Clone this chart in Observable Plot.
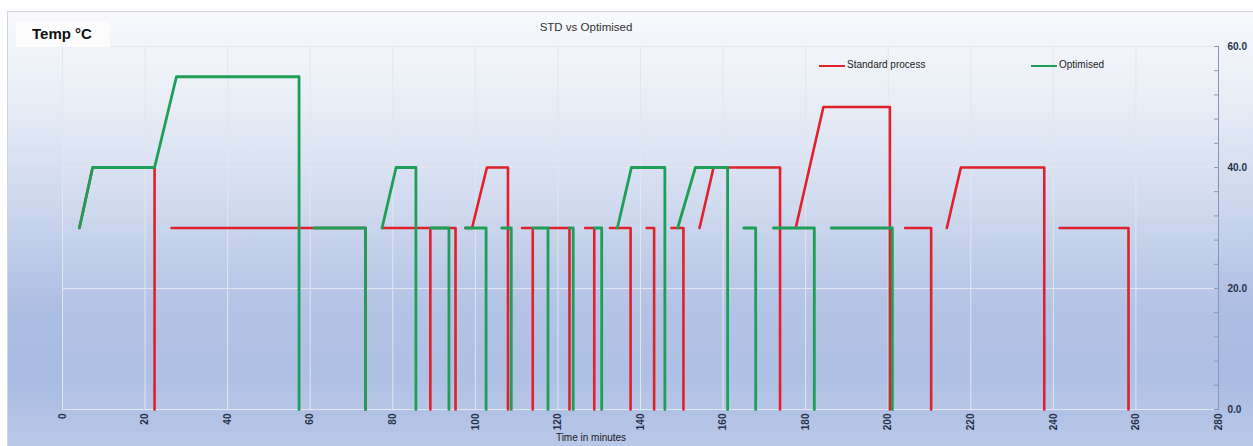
<!DOCTYPE html>
<html><head><meta charset="utf-8">
<script src="https://cdn.jsdelivr.net/npm/d3@7"></script>
<script src="https://cdn.jsdelivr.net/npm/@observablehq/plot@0.6"></script>
<style>
body{margin:0;background:#fff;font-family:"Liberation Sans",Arial,sans-serif;}
#wrap{position:relative;width:1253px;height:446px;overflow:hidden;background:#fff;}
#box{position:absolute;left:7px;top:11px;right:0;bottom:0;border-left:1px solid #d4d8de;border-top:1px solid #d4d8de;
 background:linear-gradient(to bottom,#f7f9fc 0%,#e8edf6 20%,#ccd7ee 45%,#adbee3 68%,#a8bbe2 84%,#b9c8e7 100%);}
#chart{position:absolute;left:0;top:0;}
.ov{position:absolute;white-space:nowrap;color:#333;}
#tempbox{position:absolute;left:16px;top:21px;width:94px;height:26px;background:#fcfcfd;}
#temp{left:32px;top:22px;font-weight:bold;font-size:15px;line-height:24px;color:#111;}
#title{left:586px;top:21px;transform:translateX(-50%);font-size:11.5px;color:#333;}
#xlabel{left:591px;top:432px;transform:translateX(-50%);font-size:10px;color:#222;}
.lg{position:absolute;height:2px;width:26px;top:65px;}
.lt{top:59px;font-size:10px;color:#222;}
.plot-ticks text{font-weight:bold;}
</style>
</head><body>
<div id="wrap">
 <div id="box"></div>
 <div id="chart"></div>
 <div id="tempbox"></div>
 <div class="ov" id="temp">Temp °C</div>
 <div class="ov" id="title">STD vs Optimised</div>
 <div class="lg" style="left:819px;background:#e0202a"></div>
 <div class="ov lt" style="left:847px">Standard process</div>
 <div class="lg" style="left:1031px;background:#1f9e58"></div>
 <div class="ov lt" style="left:1059px">Optimised</div>
 <div class="ov" id="xlabel">Time in minutes</div>
</div>
<script>
// Standard process: time (minutes) and temperature (°C); null = break between runs
const stdTime = [4.1,7.3,22.3,22.3,null,
 26.4,73.4,73.4,null,
 77.4,89.1,89.1,null,
 89.4,95.2,95.2,null,
 97.6,99.2,102.8,107.9,107.9,null,
 111.3,113.9,113.9,null,
 117.6,122.8,122.8,null,
 126.6,128.8,128.8,null,
 132.6,137.6,137.6,null,
 141.5,143.3,143.3,null,
 147.5,150.4,150.4,null,
 154.3,157.7,173.8,173.8,null,
 177.6,184.3,200.4,200.4,null,
 204.1,210.4,210.4,null,
 214.2,217.6,237.8,237.8,null,
 241.5,258.2,258.2];
const stdTemp = [30,40,40,0,null,
 30,30,0,null,
 30,30,0,null,
 30,30,0,null,
 30,30,40,40,0,null,
 30,30,0,null,
 30,30,0,null,
 30,30,0,null,
 30,30,0,null,
 30,30,0,null,
 30,30,0,null,
 30,40,40,0,null,
 30,50,50,0,null,
 30,30,0,null,
 30,40,40,0,null,
 30,30,0];
// Optimised process
const optTime = [4.1,7.3,22.3,27.6,57.3,57.3,null,
 60.9,73.4,73.4,null,
 77.4,80.8,85.6,85.6,null,
 89.1,93.6,93.6,null,
 97.6,102.6,102.6,null,
 106.4,108.7,108.7,null,
 113.9,117.6,117.6,null,
 122.8,123.7,123.7,null,
 128.8,130.6,130.6,null,
 134.4,137.8,145.9,145.9,null,
 149.0,153.3,161.1,161.1,null,
 165.0,167.9,167.9,null,
 172.2,182.1,182.1,null,
 186.2,201.0,201.0];
const optTemp = [30,40,40,55,55,0,null,
 30,30,0,null,
 30,40,40,0,null,
 30,30,0,null,
 30,30,0,null,
 30,30,0,null,
 30,30,0,null,
 30,30,0,null,
 30,30,0,null,
 30,40,40,0,null,
 30,40,40,0,null,
 30,30,0,null,
 30,30,0,null,
 30,30,0];
const xTicks = [0,20,40,60,80,100,120,140,160,180,200,220,240,260,280];
const yTicks = [0,20,40,60];
const yMinorTicks = [0,4,8,12,16,20,24,28,32,36,40,44,48,52,56,60];

const red = "#e0202a", green = "#1f9e58";
const stdData = stdTime.map((t,i)=>({t, v: stdTemp[i]}));
const optData = optTime.map((t,i)=>({t, v: optTemp[i]}));

const chart = Plot.plot({
  width:1253, height:446,
  marginTop:46, marginBottom:37, marginLeft:62, marginRight:35,
  style:{background:"transparent", fontFamily:"Liberation Sans, Arial, sans-serif", fontSize:"10px", overflow:"visible"},
  x:{domain:[0,280]},
  y:{domain:[0,60]},
  marks:[
    Plot.frame({fill:"white", fillOpacity:0.08, stroke:"none"}),
    Plot.gridX(xTicks, {stroke:"#e2e6ee", strokeOpacity:1}),
    Plot.gridY(yTicks, {stroke:"#e2e6ee", strokeOpacity:1}),
    Plot.axisX(xTicks, {tickRotate:-90, tickSize:0, tickPadding:4, fill:"#27324a", fontWeight:"bold", label:null}),
    Plot.axisY(yMinorTicks, {anchor:"right", tickSize:5, dx:-5, tickFormat:()=>"", stroke:"#8797b8", label:null}),
    Plot.axisY(yTicks, {anchor:"right", tickSize:0, tickPadding:9, tickFormat:d3.format(".1f"), fill:"#27324a", fontWeight:"bold", label:null}),
    Plot.ruleX([280], {stroke:"#8797b8"}),
    Plot.line(stdData, {x:"t", y:"v", stroke:red, strokeWidth:2.6}),
    Plot.line(optData, {x:"t", y:"v", stroke:green, strokeWidth:2.8})
  ]
});
document.getElementById("chart").appendChild(chart);
</script>
</body></html>
